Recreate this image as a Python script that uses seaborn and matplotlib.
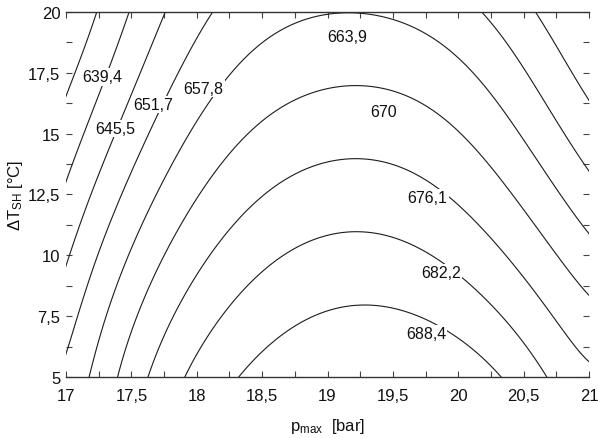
import numpy as np
import matplotlib
matplotlib.use("Agg")
import matplotlib.pyplot as plt
from matplotlib.ticker import MultipleLocator, FuncFormatter
import seaborn as sns

# Contour levels of the response surface
levels = [639.4, 645.5, 651.7, 657.8, 663.9, 670.0, 676.1, 682.2, 688.4]

# Points traced along each isoline: p_max [bar], dT_SH [K]
p_6394 = [17.255, 17.157, 17.07, 17.0]
t_6394 = [20.0, 18.6, 17.37, 16.43]
p_6455 = [17.48, 17.321, 17.145, 17.0]
t_6455 = [20.0, 17.78, 15.19, 13.07]
p_6517 = [17.72, 17.45, 17.13, 17.11, 17.0, 20.65, 20.68, 20.78, 20.91, 21.0]
t_6517 = [20.0, 16.2, 11.78, 11.49, 9.44, 20.0, 18.9, 17.8, 17.1, 16.4]
p_6578 = [18.17, 17.78, 17.37, 17.35, 17.17, 17.0, 20.15, 20.37, 20.47, 20.60, 20.75, 21.0]
t_6578 = [20.0, 16.0, 11.78, 11.49, 8.7, 5.95, 20.0, 18.9, 17.8, 16.55, 15.4, 13.67]
p_6639 = [17.19, 17.59, 17.87, 18.14, 18.79, 19.2, 19.40, 19.78, 20.04, 20.30, 20.46,
          20.60, 20.72, 20.85, 21.0]
t_6639 = [5.0, 11.49, 14.5, 16.5, 19.64, 20.05, 19.9, 18.83, 17.95, 16.7, 15.4,
          14.04, 13.14, 12.0, 10.9]
p_6700 = [17.39, 17.87, 18.13, 18.38, 18.64, 18.79, 19.15, 19.40, 19.78, 20.17,
          20.37, 20.53, 20.71, 21.0]
t_6700 = [5.0, 11.08, 13.43, 15.07, 16.3, 16.55, 16.97, 16.84, 15.9, 14.04,
          12.93, 11.58, 10.15, 8.3]
p_6761 = [17.61, 17.87, 18.33, 18.79, 19.2, 19.40, 19.78, 19.91, 20.17, 20.42,
          20.63, 20.83, 21.0]
t_6761 = [5.0, 7.93, 11.49, 13.55, 13.88, 13.83, 12.85, 12.3, 11.37, 9.73,
          8.08, 6.56, 5.6]
p_6822 = [17.92, 18.79, 19.2, 19.40, 19.87, 20.03, 20.30, 20.53, 20.70]
t_6822 = [5.0, 10.34, 10.92, 10.88, 9.77, 9.23, 7.67, 6.03, 5.0]
p_6884 = [18.33, 18.79, 19.25, 19.40, 19.81, 19.91, 20.17, 20.34]
t_6884 = [5.0, 7.38, 7.97, 7.96, 7.18, 6.77, 5.86, 5.0]

# Corner and ridge estimates of the surface
p_extra = [17.0, 21.0, 17.0, 21.0, 19.2]
t_extra = [20.0, 20.0, 5.0, 5.0, 5.0]
z_extra = [634.5, 646.5, 659.5, 677.5, 694.5]

# Where each contour label sits (p_max, dT_SH)
label_p = [17.279, 17.375, 17.665, 18.05, 19.153, 19.428, 19.765, 19.868, 19.753]
label_t = [17.33, 15.21, 16.2, 16.86, 19.0, 15.93, 12.38, 9.30, 6.77]

x_ticks = [17, 17.5, 18, 18.5, 19, 19.5, 20, 20.5, 21]
y_ticks = [5, 7.5, 10, 12.5, 15, 17.5, 20]

iso_p = [p_6394, p_6455, p_6517, p_6578, p_6639, p_6700, p_6761, p_6822, p_6884]
iso_t = [t_6394, t_6455, t_6517, t_6578, t_6639, t_6700, t_6761, t_6822, t_6884]

# Gather samples and fit a smooth polynomial response surface
P = np.concatenate([np.array(p, float) for p in iso_p] + [np.array(p_extra, float)])
T = np.concatenate([np.array(t, float) for t in iso_t] + [np.array(t_extra, float)])
Z = np.concatenate([np.full(len(p), lev) for p, lev in zip(iso_p, levels)]
                   + [np.array(z_extra, float)])


def scale(p, t):
    return (p - 19.0) / 2.0, (t - 12.5) / 7.5


deg = [6, 3]
u, v = scale(P, T)
A = np.polynomial.polynomial.polyvander2d(u, v, deg)
coef, *_ = np.linalg.lstsq(A, Z, rcond=None)
coef = coef.reshape(deg[0] + 1, deg[1] + 1)

pg = np.linspace(16.95, 21.05, 400)
tg = np.linspace(4.9, 20.3, 400)
PG, TG = np.meshgrid(pg, tg)
UG, VG = scale(PG, TG)
ZG = np.polynomial.polynomial.polyval2d(UG, VG, coef)

sns.set_theme(style="white")
plt.rcParams["font.family"] = ["Liberation Sans", "DejaVu Sans"]
plt.rcParams["mathtext.fontset"] = "custom"
plt.rcParams["mathtext.rm"] = "Liberation Sans"
plt.rcParams["mathtext.it"] = "Liberation Sans:italic"

fig = plt.figure(figsize=(5.98, 4.39), dpi=100)
ax = fig.add_axes([0.1104, 0.139, 0.8746, 0.8314])

ax.contour(PG, TG, ZG, levels=levels, colors="#1c1c1c", linewidths=0.8)


def comma(v):
    return f"{v:g}".replace(".", ",")


for lev, lp, lt in zip(levels, label_p, label_t):
    ax.text(lp, lt, comma(lev), ha="center", va="center", fontsize=11.5,
            color="#111111",
            bbox=dict(boxstyle="square,pad=0.08", fc="white", ec="none"))

ax.set_xlim(17, 21)
ax.set_ylim(5, 20)
ax.set_xticks(x_ticks)
ax.set_yticks(y_ticks)
ax.xaxis.set_minor_locator(MultipleLocator(0.25))
ax.yaxis.set_minor_locator(MultipleLocator(1.25))
fmt = FuncFormatter(lambda v, _: comma(v))
ax.xaxis.set_major_formatter(fmt)
ax.yaxis.set_major_formatter(fmt)

ax.tick_params(which="both", direction="in", length=4, width=0.8,
               color="#444444", top=True, right=True, left=True, bottom=True,
               labelsize=12, labelcolor="#111111")
ax.tick_params(axis="x", pad=8)
ax.tick_params(axis="y", pad=4)

for side in ("left", "right"):
    ax.spines[side].set_visible(False)
for side in ("top", "bottom"):
    ax.spines[side].set_color("#333333")
    ax.spines[side].set_linewidth(1.0)

ax.set_xlabel(r"p$_{\mathrm{max}}$  [bar]", fontsize=12, color="#111111", labelpad=9)
ax.set_ylabel(r"ΔT$_{\mathrm{SH}}$ [°C]", fontsize=12, color="#111111", labelpad=2)

fig.savefig("out.png", dpi=100)
